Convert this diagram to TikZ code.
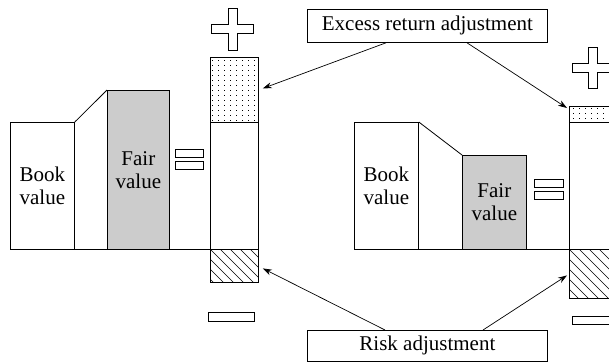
\documentclass[tikz,border=0pt]{standalone}
\usepackage{fontspec}
\setmainfont{Liberation Serif}
\usetikzlibrary{arrows.meta,calc}
\newcommand\plusglyph[4]{% cx, cy, half arm, half bar
  \draw[symb] (#1-#4,#2-#3) -- (#1+#4,#2-#3) -- (#1+#4,#2-#4) -- (#1+#3,#2-#4)
    -- (#1+#3,#2+#4) -- (#1+#4,#2+#4) -- (#1+#4,#2+#3) -- (#1-#4,#2+#3)
    -- (#1-#4,#2+#4) -- (#1-#3,#2+#4) -- (#1-#3,#2-#4) -- (#1-#4,#2-#4) -- cycle;}
\begin{document}
\begin{tikzpicture}[x=1pt,y=-1pt,line width=0.8pt,
  box/.style={draw, rectangle, inner sep=0pt, anchor=north west, align=center,
    font=\fontsize{21}{23}\selectfont},
  lbl/.style={draw, fill=white, rectangle, inner sep=0pt, anchor=north west,
    font=\fontsize{21}{23}\selectfont},
  part/.style={draw, rectangle, inner sep=0pt, anchor=north west},
  arr/.style={-{Stealth[length=9pt,width=6pt]}, line width=0.7pt},
  symb/.style={draw, fill=white, line width=0.8pt},
  bar/.style={draw, fill=white, rectangle, inner sep=0pt, anchor=north west}
]
\useasboundingbox (0,0) rectangle (609,362);
\clip (0,0) rectangle (609,362);

% ---------- left panel ----------
\node[box, minimum width=64pt, minimum height=127pt] (bookL) at (10,122) {Book\\value};
\node[box, fill=gray!40, minimum width=62pt, minimum height=159pt] (fairL) at (107,90) {Fair\\value};
\node[part, minimum width=48pt, minimum height=65pt] (dotL) at (210,57) {};
\node[part, minimum width=48pt, minimum height=127pt] (midL) at (210,122) {};
\node[part, minimum width=48pt, minimum height=33pt] (hatchL) at (210,249) {};
\draw (bookL.north east) -- (fairL.north west);
\draw (bookL.south west) -- (midL.south west);
\node[bar, minimum width=28pt, minimum height=8pt] (eqL1) at (175,149) {};
\node[bar, minimum width=28pt, minimum height=8pt] (eqL2) at (175,161) {};
\node[bar, minimum width=46pt, minimum height=9pt] (minusL) at (208,312) {};
\plusglyph{232.5}{29}{21}{4.5}

\foreach \i in {0,...,7}{\foreach \j in {0,...,12}{
  \fill (212+6*\i,60+5*\j) rectangle ++(1.2,1.2);}}
\begin{scope}
  \clip (hatchL.north west) rectangle (hatchL.south east);
  \foreach \k in {-50,-40,...,50}{\draw[line width=0.6pt] (210+\k,249) -- ++(60,60);}
\end{scope}
\draw (hatchL.north west) rectangle (hatchL.south east);

% ---------- right panel ----------
\node[box, minimum width=64pt, minimum height=127pt] (bookR) at (354,122) {Book\\value};
\node[box, fill=gray!40, minimum width=64pt, minimum height=94pt] (fairR) at (462,155) {Fair\\value};
\node[part, minimum width=48pt, minimum height=16pt] (dotR) at (569,106) {};
\node[part, minimum width=48pt, minimum height=127pt] (midR) at (569,122) {};
\node[part, minimum width=48pt, minimum height=49pt] (hatchR) at (569,249) {};
\draw (bookR.north east) -- (fairR.north west);
\draw (bookR.south west) -- (midR.south west);
\node[bar, minimum width=29pt, minimum height=8pt] (eqR1) at (534,179) {};
\node[bar, minimum width=29pt, minimum height=8pt] (eqR2) at (534,191) {};
\node[bar, minimum width=46pt, minimum height=8pt] (minusR) at (572,316) {};
\plusglyph{592.5}{67.5}{20.5}{4.5}

\foreach \i in {0,...,6}{\foreach \j in {0,1,2}{
  \fill (573+6*\i,108+5*\j) rectangle ++(1.2,1.2);}}
\begin{scope}
  \clip (hatchR.north west) rectangle (hatchR.south east);
  \foreach \k in {-60,-50,...,50}{\draw[line width=0.6pt] (569+\k,249) -- ++(60,60);}
\end{scope}
\draw (hatchR.north west) rectangle (hatchR.south east);

% ---------- labels and arrows ----------
\node[lbl, minimum width=240pt, minimum height=33pt] (excess) at (307,9) {Excess return adjustment};
\node[lbl, minimum width=240pt, minimum height=31pt] (risk) at (307,330) {Risk adjustment};

\draw[arr] ($(excess.south west)+(79,0)$) -- ($(dotL.east)+(4,-1.5)$);
\draw[arr] ($(excess.south west)+(160,0)$) -- ($(dotR.north west)+(-2,2)$);
\draw[arr] ($(risk.north west)+(78,0)$) -- ($(hatchL.east)+(4,2.5)$);
\draw[arr] ($(risk.north west)+(176,0)$) -- ($(hatchR.west)+(-2,1.5)$);
\end{tikzpicture}
\end{document}
